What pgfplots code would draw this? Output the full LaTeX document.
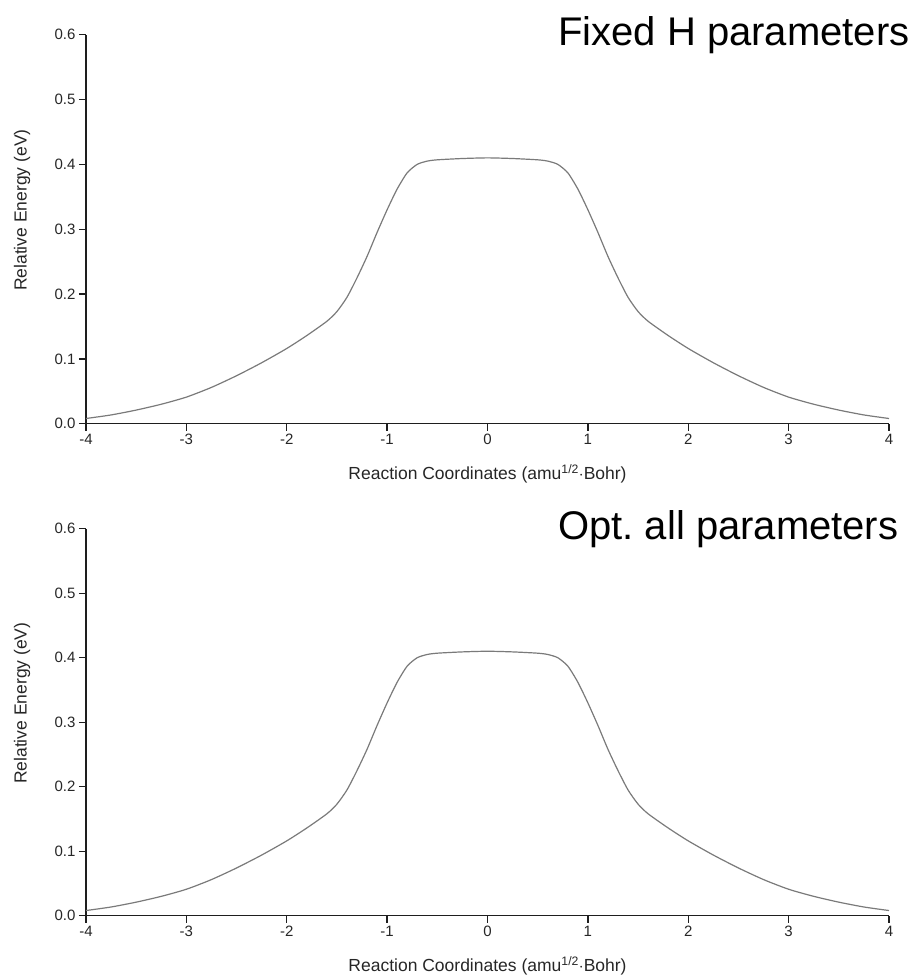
\documentclass[border=0pt]{standalone}
\usepackage{fontspec}
\setmainfont{Liberation Sans}
\usepackage{pgfplots}
\pgfplotsset{compat=1.18}
\usepackage{pgfplotstable}
\frenchspacing

% Minimum energy path: relative energy along the reaction coordinate
\pgfplotstableread{
x      E
-4.00  0.0080
-3.75  0.0135
-3.50  0.0210
-3.25  0.0300
-3.00  0.0410
-2.75  0.0560
-2.50  0.0740
-2.25  0.0940
-2.00  0.1160
-1.80  0.1360
-1.60  0.1580
-1.50  0.1730
-1.40  0.1950
-1.30  0.2250
-1.20  0.2580
-1.10  0.2950
-1.00  0.3300
-0.90  0.3620
-0.80  0.3870
-0.70  0.4000
-0.60  0.4050
-0.50  0.4070
-0.25  0.4090
 0.00  0.4100
 0.25  0.4090
 0.50  0.4070
 0.60  0.4050
 0.70  0.4000
 0.80  0.3870
 0.90  0.3620
 1.00  0.3300
 1.10  0.2950
 1.20  0.2580
 1.30  0.2250
 1.40  0.1950
 1.50  0.1730
 1.60  0.1580
 1.80  0.1360
 2.00  0.1160
 2.25  0.0940
 2.50  0.0740
 2.75  0.0560
 3.00  0.0410
 3.25  0.0300
 3.50  0.0210
 3.75  0.0135
 4.00  0.0080
}\pathfixed

\pgfplotstableread{
x      E
-4.00  0.0080
-3.75  0.0135
-3.50  0.0210
-3.25  0.0300
-3.00  0.0410
-2.75  0.0560
-2.50  0.0740
-2.25  0.0940
-2.00  0.1160
-1.80  0.1360
-1.60  0.1580
-1.50  0.1730
-1.40  0.1950
-1.30  0.2250
-1.20  0.2580
-1.10  0.2950
-1.00  0.3300
-0.90  0.3620
-0.80  0.3870
-0.70  0.4000
-0.60  0.4050
-0.50  0.4070
-0.25  0.4090
 0.00  0.4100
 0.25  0.4090
 0.50  0.4070
 0.60  0.4050
 0.70  0.4000
 0.80  0.3870
 0.90  0.3620
 1.00  0.3300
 1.10  0.2950
 1.20  0.2580
 1.30  0.2250
 1.40  0.1950
 1.50  0.1730
 1.60  0.1580
 1.80  0.1360
 2.00  0.1160
 2.25  0.0940
 2.50  0.0740
 2.75  0.0560
 3.00  0.0410
 3.25  0.0300
 3.50  0.0210
 3.75  0.0135
 4.00  0.0080
}\pathopt

\definecolor{curvegray}{HTML}{7A7A7A}
\definecolor{axisdark}{HTML}{1E1E1E}

\pgfplotsset{
  mepstyle/.style={
    scale only axis,
    width=803pt,
    anchor=south west,
    xmin=-4, xmax=4,
    ymin=0, ymax=0.6,
    axis lines=left,
    axis line style={-, line width=1.6pt, axisdark},
    tick align=outside,
    major tick length=7pt,
    tick style={line width=1.3pt, axisdark},
    xtick={-4,-3,...,4},
    ytick={0,0.1,...,0.6},
    clip=false,
    /pgf/number format/assume math mode=true,
    tick label style={font=\fontsize{15}{18}\selectfont, text=black!85},
    yticklabel style={/pgf/number format/.cd, fixed, fixed zerofill, precision=1},
    xlabel={Reaction Coordinates (amu\textsuperscript{1/2}$\cdot$Bohr)},
    ylabel={Relative Energy (eV)},
    label style={font=\fontsize{17.5}{20}\selectfont, text=black!85},
    xlabel style={at={(axis description cs:0.5,0)}, anchor=base, yshift=-56pt},
    ylabel style={at={(axis description cs:-0.0797,0.549)}, anchor=center},
  }
}

\begin{document}
\begin{tikzpicture}
\useasboundingbox (0,0) rectangle (912pt,976pt);

% upper panel
\begin{axis}[mepstyle, height=389pt, at={(86pt,552.3pt)}]
  \addplot[curvegray, line width=1.2pt, smooth, tension=0.4] table[x=x, y=E] {\pathfixed};
\end{axis}
\node[anchor=base west, font=\fontsize{40}{46}\selectfont, inner sep=0pt] at (558pt,930pt) {Fixed H parameters};

% lower panel
\begin{axis}[mepstyle, height=387pt, at={(86pt,60.3pt)}]
  \addplot[curvegray, line width=1.2pt, smooth, tension=0.4] table[x=x, y=E] {\pathopt};
\end{axis}
\node[anchor=base west, font=\fontsize{40}{46}\selectfont, inner sep=0pt] at (558pt,436pt) {Opt. all parameters};
\end{tikzpicture}
\end{document}
